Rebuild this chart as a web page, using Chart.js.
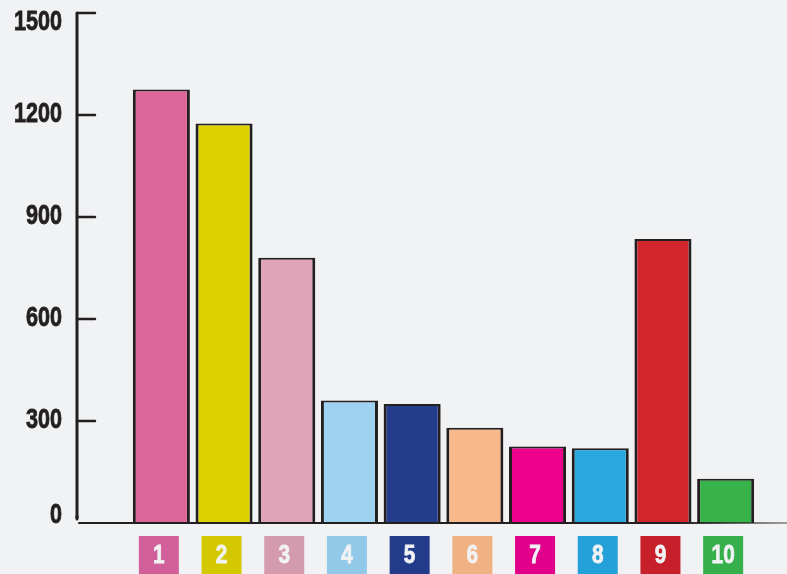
<!DOCTYPE html>
<html>
<head>
<meta charset="utf-8">
<script src="https://cdn.jsdelivr.net/npm/chart.js@4/dist/chart.umd.min.js"></script>
<style>
  html, body { margin: 0; padding: 0; background: #f1f2f4; }
  #wrap { width: 787px; height: 574px; }
</style>
</head>
<body>
<div id="wrap"><canvas id="myChart" width="787" height="574"></canvas></div>
<script>
// chart data
const categories = ["1", "2", "3", "4", "5", "6", "7", "8", "9", "10"];
const values = [1275, 1175, 780, 360, 350, 280, 225, 220, 835, 130];
const barColors = ["#dd6699", "#ddd200", "#e0a3b8", "#9dd3f0", "#233c8c",
  "#f8b98a", "#ec008c", "#29a8e0", "#d1242b", "#38b34a"];
const labelColors = ["#d1609a", "#d4c800", "#d49aae", "#92c9e9", "#223b8a",
  "#f0b283", "#e0008a", "#24a1d8", "#c8202a", "#35b04a"];
const yTicks = [0, 300, 600, 900, 1200, 1500];

const FONT = "'Liberation Sans', Arial, sans-serif";
const INK = "#231f20";

// condensed look: squeeze a bold sans horizontally
function narrowText(ctx, text, x, y, size, squeeze, align, color) {
  ctx.save();
  ctx.font = "bold " + size + "px " + FONT;
  ctx.textBaseline = "middle";
  ctx.textAlign = align;
  ctx.translate(x, y);
  ctx.scale(squeeze, 1);
  ctx.fillStyle = color;
  ctx.strokeStyle = color;
  ctx.lineWidth = 0.8;
  ctx.fillText(text, 0, 0);
  ctx.strokeText(text, 0, 0);
  ctx.restore();
}

// hand drawn axis, tick marks, labels and the coloured category boxes
const sketchAxes = {
  id: "sketchAxes",
  afterDatasetsDraw(chart) {
    const ctx = chart.ctx;
    const x = chart.scales.x;
    const y = chart.scales.y;
    const y0 = y.getPixelForValue(0);
    const yTop = y.getPixelForValue(1500);
    const axX = 77;

    ctx.save();
    // vertical axis
    ctx.strokeStyle = INK;
    ctx.lineWidth = 3;
    ctx.lineCap = "round";
    ctx.beginPath();
    ctx.moveTo(axX, yTop);
    ctx.lineTo(axX, y0 - 4);
    ctx.stroke();

    // tick marks to the right of the axis + labels
    ctx.lineWidth = 2.5;
    yTicks.forEach(v => {
      const py = y.getPixelForValue(v);
      if (v !== 0) {
        ctx.beginPath();
        ctx.moveTo(axX, py);
        ctx.lineTo(axX + 18, py);
        ctx.stroke();
      }
      const ly = Math.min(Math.max(py, 23), y0 - 7);
      narrowText(ctx, String(v), 62, ly, 27, 0.8, "right", INK);
    });

    // baseline, fading to the right
    const grad = ctx.createLinearGradient(axX, 0, chart.width, 0);
    grad.addColorStop(0, INK);
    grad.addColorStop(0.85, INK);
    grad.addColorStop(1, "rgba(35,31,32,0.4)");
    ctx.strokeStyle = grad;
    ctx.lineWidth = 2;
    ctx.beginPath();
    ctx.moveTo(axX + 2, y0);
    ctx.lineTo(chart.width, y0);
    ctx.stroke();

    // little dot at the corner
    ctx.fillStyle = INK;
    ctx.beginPath();
    ctx.arc(axX, y0 - 6, 1.8, 0, Math.PI * 2);
    ctx.fill();

    // category boxes
    categories.forEach((c, i) => {
      const cx = x.getPixelForValue(i) - 2.5;
      ctx.fillStyle = labelColors[i];
      ctx.fillRect(cx - 20, 536, 40, 40);
      narrowText(ctx, c, cx, 556, 26, 0.8, "center", "#f1f2f4");
    });
    ctx.restore();
  }
};

new Chart(document.getElementById("myChart"), {
  type: "bar",
  data: {
    labels: categories,
    datasets: [{
      data: values,
      backgroundColor: barColors,
      borderColor: INK,
      borderWidth: { left: 3, right: 3, top: 2, bottom: 0 },
      borderSkipped: "bottom",
      barPercentage: 0.91,
      categoryPercentage: 1
    }]
  },
  options: {
    responsive: false,
    animation: false,
    layout: { padding: { top: 13, bottom: 51, right: 30, left: 0 } },
    plugins: { legend: { display: false }, tooltip: { enabled: false } },
    scales: {
      x: { display: false, offset: true },
      y: {
        min: 0,
        max: 1500,
        afterFit(s) { s.width = 130; },
        border: { display: false },
        grid: { display: false, drawTicks: false },
        ticks: { display: false }
      }
    }
  },
  plugins: [sketchAxes]
});
</script>
</body>
</html>
